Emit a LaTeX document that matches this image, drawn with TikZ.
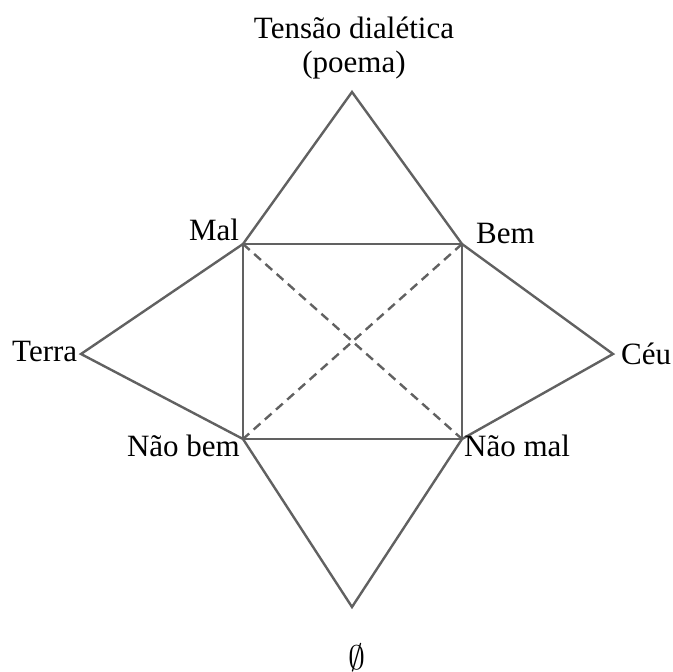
\documentclass[tikz,border=0pt]{standalone}
\usepackage{fontspec}
\setmainfont{Liberation Serif}
\begin{document}
\begin{tikzpicture}[x=1pt,y=-1pt,
  edge/.style={draw=black!62,line width=2.4pt,line join=miter},
  diag/.style={draw=black!62,line width=2.4pt,dash pattern=on 9pt off 6pt},
  lbl/.style={font=\fontsize{31}{36}\selectfont,inner sep=0pt,anchor=base}]
\useasboundingbox (0,0) rectangle (672,672);
\coordinate (top) at (352,92);
\coordinate (mal) at (243,244);
\coordinate (bem) at (462,244);
\coordinate (naobem) at (243,439);
\coordinate (naomal) at (462,439);
\coordinate (terra) at (81,354);
\coordinate (ceu) at (613,354);
\coordinate (bot) at (352,607);
\draw[edge] (mal) -- (top) -- (bem) -- (ceu) -- (naomal) -- (bot) -- (naobem) -- (terra) -- cycle;
\draw[edge] (mal) -- (bem) -- (naomal) -- (naobem) -- cycle;
\draw[diag] (mal) -- (naomal);
\draw[diag] (bem) -- (naobem);
\node[lbl] (t1) at (354,38) {Tensão dialética};
\node[lbl] (t2) at (354,72) {(poema)};
\node[lbl] (lmal) at (214,240) {Mal};
\node[lbl,anchor=base west] (lbem) at (476,243) {Bem};
\node[lbl,anchor=base west] (lterra) at (12,361) {Terra};
\node[lbl,anchor=base west] (lceu) at (621,364) {Céu};
\node[lbl,anchor=base east] (lnb) at (240,456) {Não bem};
\node[lbl,anchor=base west] (lnm) at (464,456) {Não mal};
\node[inner sep=0pt,anchor=base] (lempty) at (357,669) {\fontsize{10}{12}\selectfont\scalebox{3.4}{$\emptyset$}};
\end{tikzpicture}
\end{document}
